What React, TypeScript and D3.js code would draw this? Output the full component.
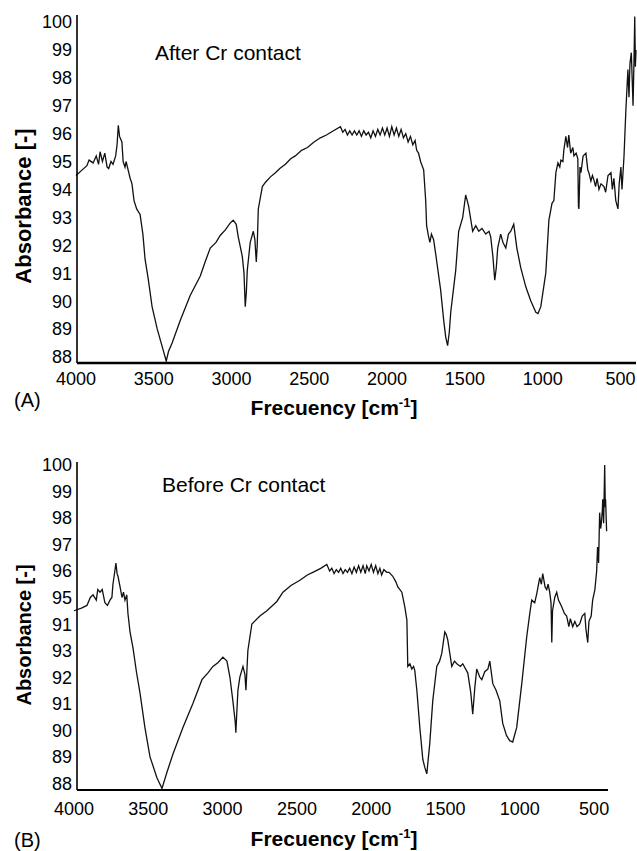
import React from "react";
import * as d3 from "d3";

// ---- Data ----
const yTickValues = [100, 99, 98, 97, 96, 95, 94, 93, 92, 91, 90, 89, 88];
const yTickLabelsA = ["100", "99", "98", "97", "96", "95", "94", "93", "92", "91", "90", "89", "88"];
const yTickLabelsB = ["100", "99", "98", "97", "96", "95", "91", "93", "92", "91", "90", "89", "88"];
const xTickValues = [4000, 3500, 3000, 2500, 2000, 1500, 1000, 500];

// [wavenumber cm-1, absorbance]
const spectrumAfter: [number, number][] = [
  [4000, 94.5], [3960, 94.7], [3930, 94.85], [3916, 95.05], [3890, 94.95], [3870, 95.2], [3855, 94.9],
  [3845, 95.35], [3830, 95.0], [3815, 95.3], [3800, 94.8], [3790, 94.75], [3775, 95.0], [3762, 94.9],
  [3745, 95.2], [3736, 95.6], [3728, 96.3], [3720, 95.9], [3705, 95.7], [3697, 95.0], [3685, 94.8],
  [3678, 95.0], [3665, 94.7], [3652, 94.4], [3640, 94.2], [3627, 93.6], [3610, 93.3], [3588, 93.1],
  [3570, 92.4], [3556, 91.5], [3536, 90.8], [3511, 89.8], [3478, 89.0], [3440, 88.25], [3420, 87.85],
  [3405, 88.2], [3382, 88.5], [3330, 89.3], [3266, 90.2], [3201, 90.9], [3170, 91.4], [3137, 91.9],
  [3100, 92.1], [3073, 92.35], [3040, 92.55], [3008, 92.8], [2989, 92.9], [2970, 92.75], [2957, 92.3],
  [2931, 91.6], [2920, 91.0], [2912, 89.8], [2905, 90.3], [2899, 91.1], [2880, 92.1], [2860, 92.5],
  [2850, 92.2], [2841, 91.4], [2835, 92.0], [2828, 93.3], [2802, 94.1], [2783, 94.25], [2750, 94.45],
  [2718, 94.6], [2690, 94.75], [2654, 94.9], [2620, 95.1], [2590, 95.2], [2550, 95.4], [2512, 95.5],
  [2470, 95.7], [2429, 95.85], [2390, 95.95], [2345, 96.1], [2300, 96.25], [2285, 96.05], [2270, 96.15],
  [2255, 95.95], [2240, 96.1], [2225, 95.95], [2210, 96.1], [2195, 95.95], [2180, 96.1], [2165, 95.9],
  [2150, 96.1], [2135, 95.95], [2120, 96.05], [2105, 95.85], [2090, 96.1], [2075, 95.9], [2060, 96.15],
  [2045, 95.95], [2030, 96.2], [2015, 95.95], [2000, 96.2], [1985, 95.9], [1970, 96.25], [1955, 95.95],
  [1940, 96.2], [1925, 95.9], [1910, 96.15], [1895, 95.85], [1880, 96.0], [1865, 95.7], [1850, 95.9],
  [1835, 95.6], [1820, 95.75], [1810, 95.4], [1798, 95.3], [1785, 95.0], [1765, 94.7], [1752, 93.6],
  [1746, 92.7], [1735, 92.35], [1725, 92.1], [1715, 92.4], [1701, 92.2], [1688, 91.7], [1656, 90.4],
  [1636, 89.3], [1623, 88.7], [1611, 88.4], [1600, 88.9], [1591, 89.6], [1559, 91.1], [1540, 92.5],
  [1514, 93.0], [1495, 93.8], [1485, 93.6], [1476, 93.4], [1450, 92.5], [1430, 92.7], [1411, 92.5],
  [1390, 92.6], [1366, 92.4], [1345, 92.5], [1334, 92.3], [1320, 91.6], [1308, 90.75], [1298, 91.2],
  [1289, 91.9], [1270, 92.4], [1255, 92.1], [1237, 91.9], [1220, 92.4], [1205, 92.5], [1186, 92.75],
  [1166, 91.9], [1141, 91.2], [1108, 90.5], [1076, 90.0], [1044, 89.6], [1030, 89.55], [1012, 89.8],
  [980, 91.0], [960, 92.9], [940, 93.5], [928, 93.6], [915, 94.6], [902, 94.95], [890, 94.8],
  [883, 95.05], [870, 95.0], [864, 95.4], [851, 95.9], [840, 95.5], [832, 95.95], [820, 95.3],
  [806, 95.5], [799, 95.2], [785, 95.3], [774, 95.1], [770, 93.4], [767, 93.3], [760, 94.8],
  [754, 94.6], [740, 95.2], [722, 95.3], [710, 94.7], [703, 94.6], [690, 94.3], [680, 94.5],
  [671, 94.35], [660, 94.1], [650, 94.4], [638, 94.0], [625, 94.2], [606, 94.1], [595, 93.9],
  [580, 94.5], [561, 94.6], [552, 94.0], [542, 94.4], [530, 93.6], [516, 93.3], [508, 94.2],
  [497, 94.8], [490, 94.0], [477, 95.2], [465, 96.85], [452, 98.3], [445, 97.3], [439, 98.5],
  [430, 98.9], [426, 98.2], [419, 97.0], [413, 98.6], [408, 100.2], [404, 98.4], [400, 99.0],
];

const spectrumBefore: [number, number][] = [
  [4000, 94.5], [3950, 94.6], [3913, 94.7], [3890, 95.0], [3872, 95.1], [3850, 94.9], [3840, 95.3],
  [3825, 95.2], [3810, 95.3], [3792, 94.8], [3775, 94.7], [3758, 94.9], [3745, 95.0], [3738, 95.5],
  [3725, 96.0], [3718, 96.3], [3710, 95.9], [3704, 95.8], [3690, 95.4], [3677, 95.0], [3667, 95.2],
  [3657, 94.9], [3645, 95.1], [3637, 94.4], [3623, 93.7], [3603, 93.1], [3580, 92.2], [3556, 91.4],
  [3523, 90.1], [3489, 89.0], [3442, 88.2], [3408, 87.8], [3375, 88.4], [3334, 89.1], [3267, 90.1],
  [3200, 91.0], [3139, 91.9], [3100, 92.15], [3065, 92.4], [3030, 92.55], [2998, 92.75], [2971, 92.6],
  [2951, 92.0], [2931, 91.1], [2915, 90.3], [2911, 89.9], [2905, 90.6], [2897, 91.5], [2884, 92.0],
  [2863, 92.4], [2850, 92.1], [2843, 91.5], [2830, 93.0], [2803, 94.0], [2749, 94.3], [2702, 94.5],
  [2635, 94.85], [2594, 95.2], [2540, 95.45], [2480, 95.65], [2430, 95.85], [2393, 95.95], [2340, 96.1],
  [2299, 96.25], [2280, 96.0], [2265, 96.1], [2250, 95.9], [2235, 96.05], [2220, 95.95], [2205, 96.1],
  [2190, 95.9], [2175, 96.05], [2160, 95.95], [2145, 96.1], [2130, 95.9], [2115, 96.15], [2100, 95.95],
  [2085, 96.2], [2070, 95.95], [2055, 96.2], [2040, 95.9], [2030, 96.2], [2015, 96.0], [2000, 96.25],
  [1985, 95.95], [1970, 96.2], [1955, 95.9], [1942, 96.1], [1930, 95.85], [1915, 96.05], [1895, 95.95],
  [1880, 95.95], [1855, 95.8], [1835, 95.6], [1821, 95.4], [1794, 95.2], [1774, 94.65], [1760, 94.15],
  [1754, 92.4], [1740, 92.5], [1727, 92.3], [1715, 92.4], [1707, 92.25], [1693, 91.5], [1673, 90.1],
  [1653, 88.9], [1640, 88.6], [1626, 88.35], [1606, 89.5], [1586, 91.1], [1559, 92.4], [1540, 92.6],
  [1525, 92.9], [1505, 93.7], [1495, 93.6], [1485, 93.4], [1458, 92.4], [1440, 92.6], [1424, 92.5],
  [1400, 92.4], [1384, 92.5], [1350, 92.15], [1330, 91.4], [1317, 90.6], [1303, 91.6], [1290, 92.3],
  [1270, 92.0], [1256, 91.9], [1236, 92.2], [1215, 92.3], [1202, 92.6], [1182, 91.75], [1160, 91.5],
  [1135, 91.1], [1115, 90.25], [1090, 89.8], [1068, 89.6], [1048, 89.55], [1021, 90.1], [987, 91.75],
  [954, 93.5], [933, 94.4], [920, 94.9], [900, 94.8], [886, 95.15], [866, 95.75], [855, 95.5],
  [846, 95.9], [830, 95.4], [819, 95.3], [810, 95.5], [799, 95.2], [790, 94.8], [785, 93.3],
  [780, 94.5], [765, 95.0], [752, 95.2], [740, 94.9], [718, 94.65], [700, 94.4], [685, 94.3],
  [670, 93.9], [660, 94.2], [644, 93.9], [630, 94.1], [615, 93.9], [597, 94.0], [580, 94.3],
  [563, 94.4], [555, 93.8], [543, 93.3], [535, 94.1], [520, 94.3], [510, 94.9], [495, 95.3],
  [483, 96.0], [477, 96.9], [470, 96.3], [463, 98.2], [456, 97.6], [450, 97.9], [445, 98.3],
  [442, 98.7], [436, 97.8], [429, 100.0], [425, 98.4], [423, 98.7], [416, 97.5],
];

type PanelProps = {
  data: [number, number][];
  yLabels: string[];
  xRange: [number, number];
  yDomain: [number, number];
  yRange: [number, number];
  axisX: number;
  axisEnd: number;
  xAxisWidth: number;
  note: string;
  noteX: number;
  noteY: number;
  tag: string;
  tagY: number;
  yTitleY: number;
  yTitleSize: number;
  xTickY: number;
  xTitleY: number;
};

const FONT = "'Liberation Sans', Arial, Helvetica, sans-serif";

function Panel(p: PanelProps) {
  const x = d3.scaleLinear().domain([4000, 400]).range(p.xRange);
  const y = d3.scaleLinear().domain(p.yDomain).range(p.yRange);
  const line = d3
    .line<[number, number]>()
    .x((d) => x(d[0]))
    .y((d) => y(d[1]));
  const [yBottom, yTop] = p.yRange;
  return (
    <g>
      <path d={line(p.data) || ""} fill="none" stroke="#111" strokeWidth={1.3} strokeLinejoin="miter" />
      <line x1={p.axisX} x2={p.axisX} y1={yTop} y2={yBottom} stroke="#000" strokeWidth={1.6} />
      <line x1={p.axisX} x2={p.axisEnd} y1={yBottom} y2={yBottom} stroke="#000" strokeWidth={p.xAxisWidth} />
      {yTickValues.map((v, i) => (
        <text key={"y" + v} x={72} y={y(v) + 6.5} textAnchor="end" fontSize={18} fontFamily={FONT} fill="#000">
          {p.yLabels[i]}
        </text>
      ))}
      {xTickValues.map((v) => (
        <text key={"x" + v} x={x(v)} y={p.xTickY} textAnchor="middle" fontSize={18} fontFamily={FONT} fill="#000">
          {v}
        </text>
      ))}
      <text x={p.noteX} y={p.noteY} fontSize={21} fontFamily={FONT} fill="#000">
        {p.note}
      </text>
      <text x={14} y={p.tagY} fontSize={20} fontFamily={FONT} fill="#000">
        {p.tag}
      </text>
      <text
        transform={`translate(31,${p.yTitleY}) rotate(-90)`}
        textAnchor="middle"
        fontSize={p.yTitleSize}
        fontWeight="bold"
        fontFamily={FONT}
        fill="#000"
      >
        Absorbance [-]
      </text>
      <text x={334} y={p.xTitleY} textAnchor="middle" fontSize={21} fontWeight="bold" fontFamily={FONT} fill="#000">
        Frecuency [cm
        <tspan fontSize={13} dy={-8}>-1</tspan>
        <tspan dy={8}>]</tspan>
      </text>
    </g>
  );
}

export default function App() {
  return (
    <svg
      width={637}
      height={851}
      viewBox="0 0 637 851"
      style={{ position: "absolute", left: 0, top: 0, background: "#fff" }}
    >
      <rect width={637} height={851} fill="#fff" />
      <Panel
        data={spectrumAfter}
        yLabels={yTickLabelsA}
        xRange={[76, 636]}
        yDomain={[87.78, 100.25]}
        yRange={[363, 15]}
        axisX={77}
        axisEnd={636}
        xAxisWidth={2.6}
        note="After Cr contact"
        noteX={155}
        noteY={60}
        tag="(A)"
        tagY={407}
        yTitleY={206}
        yTitleSize={22}
        xTickY={385}
        xTitleY={415}
      />
      <Panel
        data={spectrumBefore}
        yLabels={yTickLabelsB}
        xRange={[74, 609]}
        yDomain={[87.74, 100.11]}
        yRange={[790, 462]}
        axisX={77}
        axisEnd={608}
        xAxisWidth={2.2}
        note="Before Cr contact"
        noteX={162}
        noteY={492}
        tag="(B)"
        tagY={847}
        yTitleY={635}
        yTitleSize={20}
        xTickY={815}
        xTitleY={846}
      />
    </svg>
  );
}
